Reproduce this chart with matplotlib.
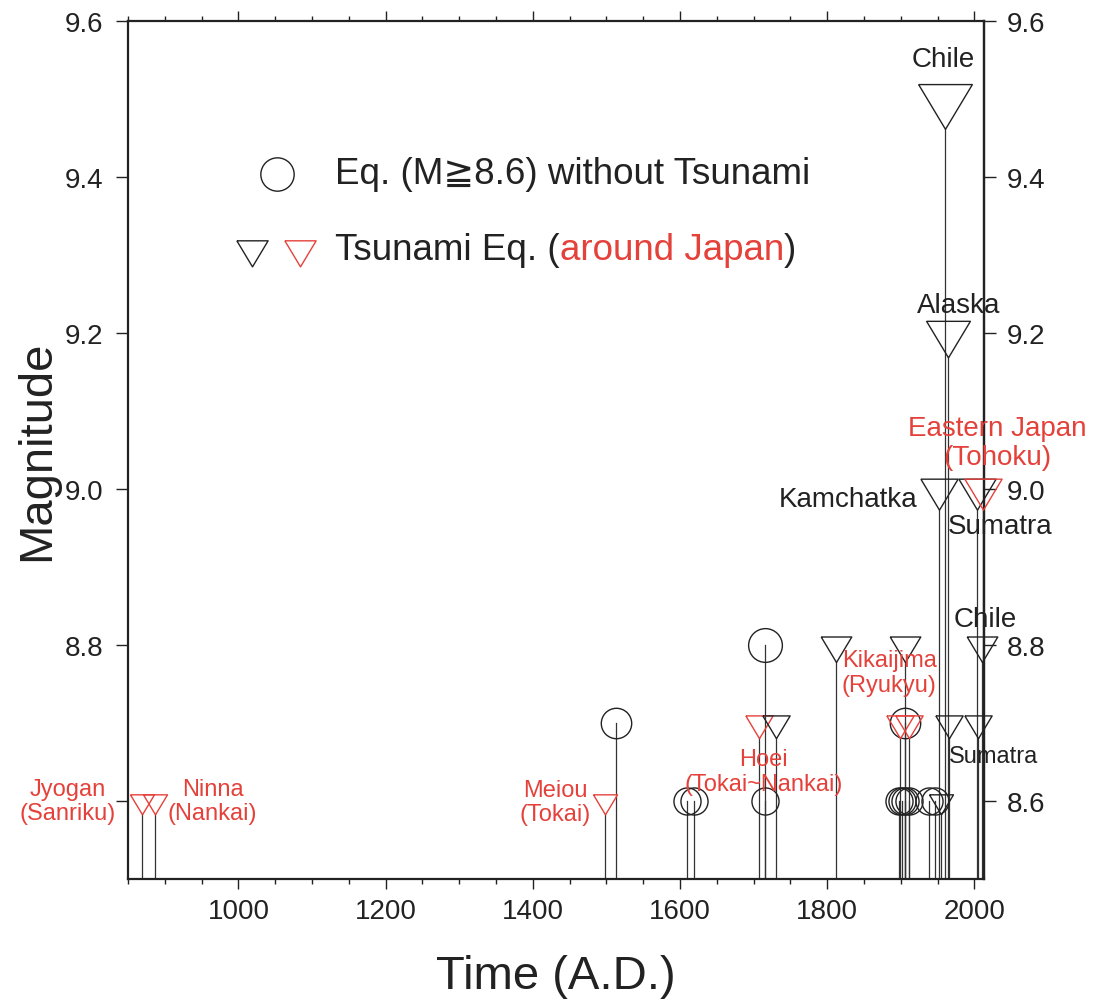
import matplotlib
matplotlib.use('Agg')
import matplotlib.pyplot as plt
from matplotlib.ticker import MultipleLocator, FuncFormatter

plt.rcParams['font.family'] = ['Liberation Sans', 'DejaVu Sans']

# tsunami earthquakes (triangles); japan flag -> red
tsu_year = [869, 887, 1498, 1707, 1730, 1812, 1899, 1906, 1911, 1952, 1955,
            1960, 1964, 1965, 2004, 2005, 2010, 2011]
tsu_mag = [8.6, 8.6, 8.6, 8.7, 8.7, 8.8, 8.7, 8.8, 8.7, 9.0, 8.6,
           9.5, 9.2, 8.7, 9.0, 8.7, 8.8, 9.0]
tsu_japan = [1, 1, 1, 1, 0, 0, 1, 0, 1, 0, 0, 0, 0, 0, 0, 0, 0, 1]

# earthquakes (M>=8.6) without tsunami (circles)
eq_year = [1513, 1609, 1619, 1715, 1716, 1897, 1902, 1905, 1906, 1911, 1938, 1946]
eq_mag = [8.7, 8.6, 8.6, 8.8, 8.6, 8.6, 8.6, 8.7, 8.6, 8.6, 8.6, 8.6]

# labels: text, x, y, colour, size, alignment
labels = [
    ('Chile', 1958, 9.551, 'k', 20, 'center'),
    ('Alaska', 1979, 9.236, 'k', 20, 'center'),
    ('Kamchatka', 1922, 8.987, 'k', 20, 'right'),
    ('Sumatra', 2035, 8.953, 'k', 20, 'center'),
    ('Eastern Japan\n(Tohoku)', 2031, 9.06, 'r', 20, 'center'),
    ('Chile', 2015, 8.833, 'k', 20, 'center'),
    ('Sumatra', 2026, 8.658, 'k', 17, 'center'),
    ('Kikaijima\n(Ryukyu)', 1884, 8.765, 'r', 17, 'center'),
    ('Hoei\n(Tokai~Nankai)', 1713, 8.638, 'r', 17, 'center'),
    ('Meiou\n(Tokai)', 1430, 8.599, 'r', 17, 'center'),
    ('Jyogan\n(Sanriku)', 768, 8.6, 'r', 17, 'center'),
    ('Ninna\n(Nankai)', 965, 8.6, 'r', 17, 'center'),
]

RED = '#e5413b'
STEM = '#333333'
ymin, ymax = 8.5, 9.6

fig = plt.figure(figsize=(10.99, 10.04), dpi=100)
ax = fig.add_axes([0.1165, 0.1235, 0.7789, 0.8546])
ax.set_xlim(850, 2013)
ax.set_ylim(ymin, ymax)

tri = [(-0.9, 0.5), (0.9, 0.5), (0.0, -1.0), (-0.9, 0.5)]
px_per_mag = ax.bbox.height / (ymax - ymin)
pt = fig.dpi / 72.0

def tri_size(m):
    return 19.2 + 26.4 * (m - 8.6)

def circ_size(m):
    return 19.5 + 24.0 * (m - 8.6)

for yr, m in zip(eq_year, eq_mag):
    ax.plot([yr, yr], [ymin, m], color=STEM, lw=0.9, zorder=1)
    ax.plot(yr, m, marker='o', ms=circ_size(m), mfc='none', mec='#222222',
            mew=1.0, zorder=2, clip_on=False)

for yr, m, jp in zip(tsu_year, tsu_mag, tsu_japan):
    ms = tri_size(m)
    tip = m - 0.5 * ms * pt / px_per_mag
    ax.plot([yr, yr], [ymin, tip], color=STEM, lw=0.9, zorder=1)
    ax.plot(yr, m, marker=tri, ms=ms, mfc='none',
            mec=RED if jp else '#222222', mew=1.0, zorder=3, clip_on=False)

for txt, x, y, c, fs, ha in labels:
    ax.text(x, y, txt, color=RED if c == 'r' else '#222222', fontsize=fs,
            ha=ha, va='center', linespacing=1.15, zorder=4)

# legend
ax.plot(0.174, 0.822, marker='o', ms=24, mfc='none', mec='#222222', mew=1.0,
        transform=ax.transAxes)
ax.text(0.242, 0.822, 'Eq. (M\u22678.6) without Tsunami', fontsize=26.5,
        va='center', ha='left', color='#222222', transform=ax.transAxes)
ax.plot(0.145, 0.734, marker=tri, ms=25, mfc='none', mec='#222222', mew=1.0,
        transform=ax.transAxes)
ax.plot(0.201, 0.734, marker=tri, ms=25, mfc='none', mec=RED, mew=1.0,
        transform=ax.transAxes)
t1 = ax.text(0.242, 0.734, 'Tsunami Eq. (', fontsize=26.5, va='center',
             ha='left', color='#222222', transform=ax.transAxes)
t2 = ax.annotate('around Japan', xy=(1, 0), xycoords=t1, fontsize=26.5,
                 va='bottom', ha='left', color=RED)
ax.annotate(')', xy=(1, 0), xycoords=t2, fontsize=26.5, va='bottom',
            ha='left', color='#222222')

ax.xaxis.set_major_locator(MultipleLocator(200))
ax.xaxis.set_minor_locator(MultipleLocator(50))
ax.yaxis.set_major_locator(MultipleLocator(0.2))
# left side: no 8.6 label (the Jyogan label sits there)
ax.yaxis.set_major_formatter(FuncFormatter(
    lambda v, p: '' if abs(v - 8.6) < 1e-6 else f'{v:.1f}'))
ax.tick_params(axis='x', which='both', direction='out', top=True, labelsize=20,
               colors='#222222', pad=6)
ax.tick_params(axis='x', which='major', length=7.5, width=1)
ax.tick_params(axis='x', which='minor', length=3.8, width=1)
ax.tick_params(axis='y', direction='out', labelsize=20, length=8.5, width=1,
               pad=9, colors='#222222')

ax2 = ax.secondary_yaxis('right')
ax2.yaxis.set_major_locator(MultipleLocator(0.2))
ax2.yaxis.set_major_formatter(FuncFormatter(lambda v, p: f'{v:.1f}'))
ax2.tick_params(axis='y', direction='out', labelsize=20, length=8.5, width=1,
                pad=8, colors='#222222')
ax2.spines['right'].set_linewidth(1.6)
ax2.spines['right'].set_color('#222222')

for s in ax.spines.values():
    s.set_linewidth(1.6)
    s.set_color('#222222')

ax.set_xlabel('Time (A.D.)', fontsize=34, labelpad=22, color='#222222')
ax.set_ylabel('Magnitude', fontsize=34, labelpad=4, color='#222222')

fig.savefig('out.png', dpi=100)
